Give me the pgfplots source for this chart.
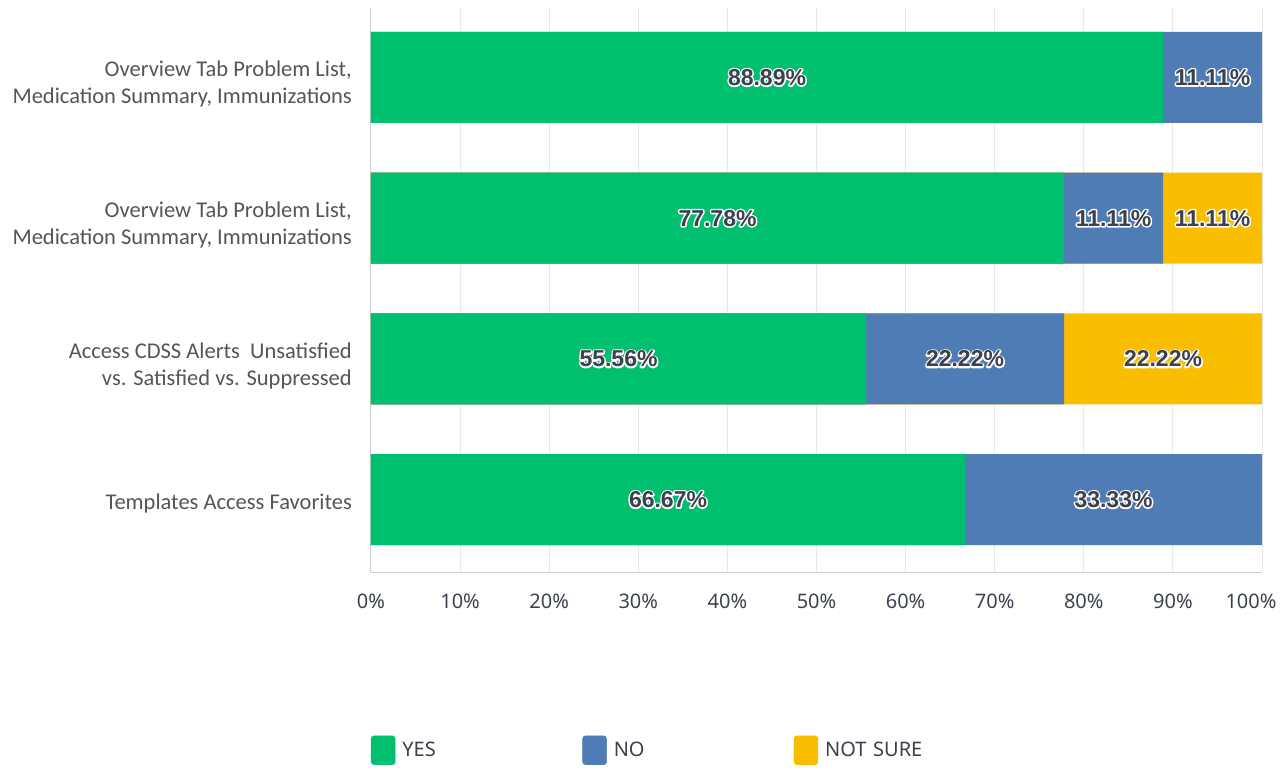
\documentclass[border=0pt]{standalone}
\usepackage{fontspec}
\setmainfont{Noto Sans}
\newfontfamily\carlito{Carlito}
\newfontfamily\vfont{Liberation Sans Bold}
\usepackage{pgfplots}
\pgfplotsset{compat=1.18}
\definecolor{cYES}{HTML}{00BF6F}
\definecolor{cNO}{HTML}{507CB6}
\definecolor{cNS}{HTML}{F9BE00}
\definecolor{txt}{HTML}{3B414D}
\definecolor{cat}{HTML}{555555}
\definecolor{gridc}{HTML}{E8E8E8}
\definecolor{axc}{HTML}{CCCCCC}
\newcommand\halo[1]{\rlap{\special{pdf:code 1 Tr 3 w 1 j 1 1 1 RG}#1\special{pdf:code 0 Tr 1 w 0 j}}#1}
\begin{document}
\begin{tikzpicture}
\path[use as bounding box] (-371pt,-196pt) rectangle (914pt,572pt);
\begin{axis}[
  at={(0pt,0pt)}, anchor=south west,
  scale only axis, width=891pt, height=564pt,
  xmin=0, xmax=100, ymin=-0.515, ymax=3.494,
  axis x line*=bottom, axis y line*=left,
  axis line style={draw=axc, line width=1pt},
  xmajorgrids, major grid style={draw=gridc, line width=1pt},
  major tick length=0pt,
  xtick={0,10,...,100},
  xticklabels={0\%,10\%,20\%,30\%,40\%,50\%,60\%,70\%,80\%,90\%,\hspace{-22pt}100\%},
  xticklabel style={font=\fontsize{20}{24}\selectfont, text=txt, yshift=-18pt},
  ytick={0,1,2,3},
  yticklabels={{\raisebox{9pt}{Templates Access Favorites}},{Access CDSS Alerts\ \ Unsatisfied\\vs. Satisfied vs. Suppressed},{Overview Tab Problem List,\\Medication Summary, Immunizations},{Overview Tab Problem List,\\Medication Summary, Immunizations}},
  yticklabel style={font=\carlito\fontsize{22.5}{27}\selectfont, text=cat, align=right, inner xsep=0pt, xshift=-19pt, yshift=-7pt},
  legend columns=3,
  legend style={at={(0,-0.29)}, anchor=north west, draw=none, fill=none, inner sep=0pt, outer sep=0pt, column sep=7pt,
    nodes={inner sep=0pt, text width=173pt, align=left, font=\fontsize{20}{24}\selectfont, text=txt}},
  legend cell align=left,
]
\addlegendimage{legend image code/.code={\fill[cYES, rounded corners=3pt] (-2pt,-14.5pt) rectangle (22pt,14.5pt);}}
\addlegendentry{YES}
\addlegendimage{legend image code/.code={\fill[cNO, rounded corners=3pt] (-2pt,-14.5pt) rectangle (22pt,14.5pt);}}
\addlegendentry{NO}
\addlegendimage{legend image code/.code={\fill[cNS, rounded corners=3pt] (-2pt,-14.5pt) rectangle (22pt,14.5pt);}}
\addlegendentry{NOT SURE}
% NOT SURE (cumulative end = 100)
\addplot[xbar, bar width=91pt, bar shift=0pt, fill=cNS, draw=none, forget plot] coordinates {(100,2) (100,1)};
% NO (cumulative end)
\addplot[xbar, bar width=91pt, bar shift=0pt, fill=cNO, draw=none, forget plot] coordinates {(100,3) (88.89,2) (77.78,1) (100,0)};
% YES
\addplot[xbar, bar width=91pt, bar shift=0pt, fill=cYES, draw=none, forget plot] coordinates {(88.89,3) (77.78,2) (55.56,1) (66.67,0)};
% value labels at segment midpoints
\addplot[only marks, mark=none, forget plot, point meta=explicit symbolic,
  nodes near coords={\halo{\pgfplotspointmeta\%}},
  nodes near coords align=center,
  every node near coord/.append style={font=\vfont\fontsize{23}{26}\selectfont, text=txt, inner sep=0pt}]
  coordinates {
  (44.445,3) [88.89] (94.445,3) [11.11]
  (38.89,2) [77.78] (83.335,2) [11.11] (94.445,2) [11.11]
  (27.78,1) [55.56] (66.67,1) [22.22] (88.89,1) [22.22]
  (33.335,0) [66.67] (83.335,0) [33.33]
  };
\end{axis}
\end{tikzpicture}
\end{document}
